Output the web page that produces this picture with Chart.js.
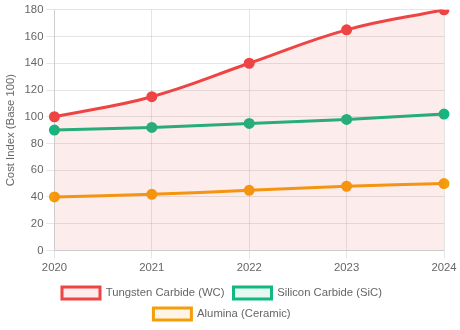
<!DOCTYPE html>
<html>
<head>
<meta charset="utf-8">
<script src="https://cdn.jsdelivr.net/npm/chart.js"></script>
<style>
  html, body { margin: 0; padding: 0; background: #fff; }
  #wrap { width: 460px; height: 330px; position: relative; }
</style>
</head>
<body>
<div id="wrap"><canvas id="costChart"></canvas></div>
<script>
var years = ['2020', '2021', '2022', '2023', '2024'];
var tungstenCarbide = [100, 115, 140, 165, 180];
var siliconCarbide = [90, 92, 95, 98, 102];
var alumina = [40, 42, 45, 48, 50];

Chart.defaults.font.family = '"Liberation Sans", Arial, sans-serif';
Chart.defaults.font.size = 11.3;
Chart.defaults.color = '#666';

var ctx = document.getElementById('costChart');
var chart = new Chart(ctx, {
    type: 'line',
    data: {
        labels: years,
        datasets: [
        {
            label: 'Tungsten Carbide (WC)',
            data: tungstenCarbide,
            borderColor: '#ef4444',
            backgroundColor: 'rgba(239, 68, 68, 0.1)',
            pointBackgroundColor: '#ef4444',
            fill: true,
            tension: 0.4,
            borderWidth: 3,
            pointRadius: 4
        },
        {
            label: 'Silicon Carbide (SiC)',
            data: siliconCarbide,
            borderColor: '#10b981',
            backgroundColor: 'rgba(16, 185, 129, 0.1)',
            pointBackgroundColor: '#10b981',
            fill: false,
            tension: 0.4,
            borderWidth: 3,
            pointRadius: 4
        },
        {
            label: 'Alumina (Ceramic)',
            data: alumina,
            borderColor: '#f59e0b',
            backgroundColor: 'rgba(245, 158, 11, 0.1)',
            pointBackgroundColor: '#f59e0b',
            fill: false,
            tension: 0.4,
            borderWidth: 3,
            pointRadius: 4
        }]
    },
    options: {
        responsive: true,
        maintainAspectRatio: false,
        animation: false,
        layout: { padding: { right: 16, top: 2 } },
        scales: {
            x: {
                ticks: { padding: 3 }
            },
            y: {
                min: 0,
                max: 180,
                ticks: { stepSize: 20 },
                title: { display: true, text: 'Cost Index (Base 100)' }
            }
        },
        plugins: {
            legend: {
                position: 'bottom',
                labels: { boxWidth: 38, boxHeight: 12, padding: 9 }
            }
        }
    }
});
</script>
</body>
</html>
